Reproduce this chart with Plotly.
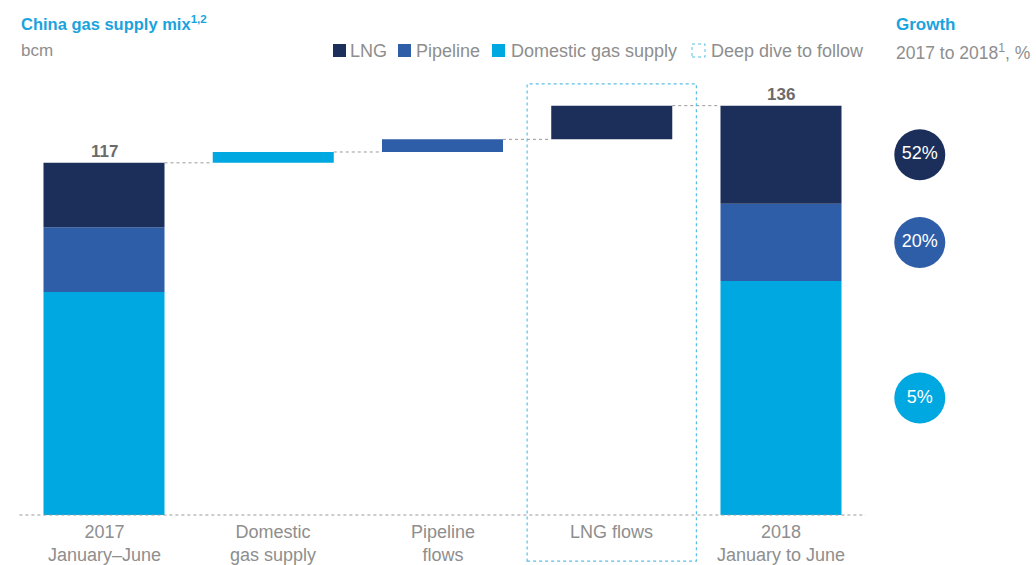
import numpy as np
import plotly.graph_objects as go

# ---------------- data ----------------
categories = ["2017<br>January–June", "Domestic<br>gas supply", "Pipeline<br>flows",
              "LNG flows", "2018<br>January to June"]
series = ["Domestic gas supply", "Pipeline", "LNG"]
supply_2017 = [74.1, 21.5, 21.4]      # domestic, pipeline, LNG
supply_2018 = [77.7, 25.7, 32.6]
deltas = [3.6, 4.2, 11.2]             # domestic, pipeline, LNG increase
totals = [117, 136]
growth_labels = ["5%", "20%", "52%"]

colors = {"Domestic gas supply": "#00A8E1", "Pipeline": "#2F5EA8", "LNG": "#1B2F5A"}
FONT = "Liberation Sans, Arial, sans-serif"
GRAY = "#8E8E8E"
W, H = 1036, 565

xpos = np.arange(len(categories))
bw = 0.715

fig = go.Figure()

base17 = np.concatenate([[0], np.cumsum(supply_2017)[:-1]])
base18 = np.concatenate([[0], np.cumsum(supply_2018)[:-1]])
delta_base = totals[0] + np.concatenate([[0], np.cumsum(deltas)[:-1]])

for i, s in enumerate(series):
    fig.add_trace(go.Bar(
        x=[xpos[0], xpos[i + 1], xpos[4]],
        y=[supply_2017[i], deltas[i], supply_2018[i]],
        base=[base17[i], delta_base[i], base18[i]],
        width=bw, marker=dict(color=colors[s], line=dict(width=0)),
        name=s, showlegend=False, hoverinfo="skip"))

# connector lines between bars
levels = [totals[0]] + list(totals[0] + np.cumsum(deltas))
for k in range(4):
    fig.add_shape(type="line", x0=xpos[k] + bw / 2, x1=xpos[k + 1] - bw / 2,
                  y0=levels[k], y1=levels[k], line=dict(color="#9A9A9A", width=1, dash="dot"))

# baseline
fig.add_shape(type="line", x0=-0.5, x1=4.5, y0=0, y1=0,
              line=dict(color="#9A9A9A", width=1, dash="dot"))

# deep-dive box
fig.add_shape(type="rect", x0=2.5, x1=3.5, y0=-15.3, y1=143.2,
              line=dict(color="#5BBFE6", width=1.2, dash="dot"))

# total labels
for xi, t in zip([xpos[0], xpos[4]], totals):
    fig.add_annotation(x=xi, y=t, text=f"<b>{t}</b>", showarrow=False, yanchor="bottom",
                       yshift=0, font=dict(size=17, color="#6B6B6B", family=FONT))

# category labels
for xi, c in zip(xpos, categories):
    fig.add_annotation(x=xi, y=0, text=c, showarrow=False, yanchor="top", yshift=-5,
                       font=dict(size=18, color=GRAY, family=FONT))

# growth circles
mid18 = base18 + np.array(supply_2018) / 2
fig.add_trace(go.Scatter(
    x=[4.82] * 3, y=mid18, mode="markers+text", text=growth_labels,
    textfont=dict(color="white", size=18, family=FONT), textposition="middle center",
    marker=dict(size=51, color=[colors[s] for s in series], line=dict(width=0)),
    showlegend=False, hoverinfo="skip", cliponaxis=False))

def px(x):
    return x / W

def py(y):
    return 1 - y / H

# titles
fig.add_annotation(xref="paper", yref="paper", x=px(19), y=py(23), xanchor="left", yanchor="middle",
                   text="<b>China gas supply mix<sup>1,2</sup></b>", showarrow=False,
                   font=dict(size=16.5, color="#1BA3DD", family=FONT))
fig.add_annotation(xref="paper", yref="paper", x=px(19), y=py(51), xanchor="left", yanchor="middle",
                   text="bcm", showarrow=False, font=dict(size=17, color=GRAY, family=FONT))
fig.add_annotation(xref="paper", yref="paper", x=px(894), y=py(24), xanchor="left", yanchor="middle",
                   text="<b>Growth</b>", showarrow=False, font=dict(size=17, color="#1BA3DD", family=FONT))
fig.add_annotation(xref="paper", yref="paper", x=px(894), y=py(52), xanchor="left", yanchor="middle",
                   text="2017 to 2018<sup>1</sup>, %", showarrow=False,
                   font=dict(size=17.5, color=GRAY, family=FONT))

# legend
legend_items = [("LNG", colors["LNG"], 333, 348), ("Pipeline", colors["Pipeline"], 398, 414),
                ("Domestic gas supply", colors["Domestic gas supply"], 492, 509)]
for name, col, x0, tx in legend_items:
    fig.add_shape(type="rect", xref="paper", yref="paper", x0=px(x0), x1=px(x0 + 13),
                  y0=py(57), y1=py(44), fillcolor=col, line=dict(width=0))
    fig.add_annotation(xref="paper", yref="paper", x=px(tx), y=py(51), xanchor="left",
                       yanchor="middle", text=name, showarrow=False,
                       font=dict(size=18, color=GRAY, family=FONT))
fig.add_shape(type="rect", xref="paper", yref="paper", x0=px(692), x1=px(705),
              y0=py(57), y1=py(44), line=dict(color="#5BBFE6", width=1, dash="dot"))
fig.add_annotation(xref="paper", yref="paper", x=px(709), y=py(51), xanchor="left",
                   yanchor="middle", text="Deep dive to follow", showarrow=False,
                   font=dict(size=18, color=GRAY, family=FONT))

x_lo = -104 / 169.25
x_hi = (W - 104) / 169.25
y_scale = 3.01
fig.update_layout(
    width=W, height=H, margin=dict(l=0, r=0, t=0, b=0),
    paper_bgcolor="white", plot_bgcolor="white", barmode="overlay",
    xaxis=dict(range=[x_lo, x_hi], visible=False, fixedrange=True),
    yaxis=dict(range=[-(H - 515) / y_scale, 515 / y_scale], visible=False, fixedrange=True),
    font=dict(family=FONT),
)

fig.write_html("out.html", config={"displayModeBar": False},
               post_script="document.body.style.margin='0';")
